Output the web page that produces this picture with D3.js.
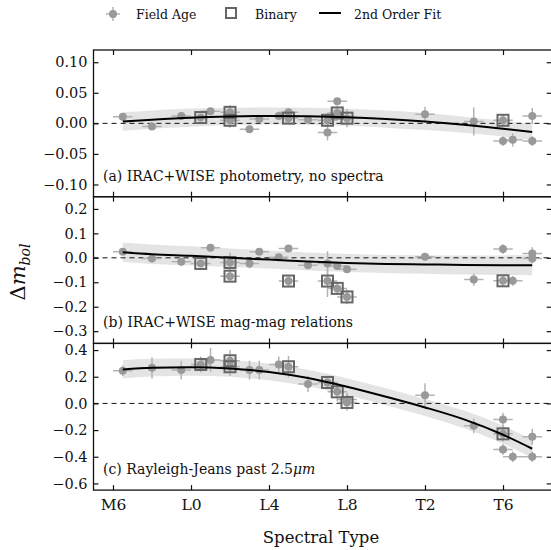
<!DOCTYPE html>
<html>
<head>
<meta charset="utf-8">
<script src="https://cdn.jsdelivr.net/npm/d3@7"></script>
<style>
  html, body { margin: 0; padding: 0; background: #fff; }
  svg { display: block; }
  text { font-family: "DejaVu Serif", "Liberation Serif", serif; fill: #111; }
</style>
</head>
<body>
<div id="chart"></div>
<script>
// ---------------- DATA ----------------
const tickSpT = [6, 10, 14, 18, 22, 26];
const tickLabels = ["M6", "L0", "L4", "L8", "T2", "T6"];
const xErrSubtype = 0.5;

// Panel (a) IRAC+WISE photometry, no spectra
const aSpT = [6.5, 8, 9.5, 10.5, 11, 12, 12, 13, 13.5, 14.5, 15, 15, 16, 17, 17, 17.5, 17.5, 18, 22, 24.5, 26, 26, 26.5, 27.5, 27.5];
const aVal = [0.011, -0.005, 0.012, 0.0095, 0.020, 0.018, 0.005, -0.0095, 0.007, 0.012, 0.018, 0.0085, 0.0057, 0.005, -0.015, 0.036, 0.017, 0.0085, 0.015, 0.003, 0.005, -0.029, -0.027, 0.012, -0.029];
const aErr = [0.005, 0.004, 0.005, 0.006, 0.005, 0.012, 0.012, 0.006, 0.006, 0.005, 0.006, 0.008, 0.005, 0.012, 0.013, 0.005, 0.012, 0.015, 0.012, 0.023, 0.010, 0.008, 0.011, 0.013, 0.008];
const aBin = [0, 0, 0, 1, 0, 1, 1, 0, 0, 0, 0, 1, 0, 1, 0, 0, 1, 1, 0, 0, 1, 0, 0, 0, 0];

// Panel (b) IRAC+WISE mag-mag relations
const bSpT = [6.5, 8, 9.5, 10.5, 11, 12, 12, 13, 13.5, 14.5, 15, 15, 16, 17, 17, 17.5, 17.5, 18, 18, 22, 24.5, 26, 26, 26.5, 27.5, 27.5];
const bVal = [0.025, -0.003, -0.016, -0.023, 0.041, -0.019, -0.075, -0.023, 0.025, 0.002, 0.038, -0.095, -0.030, -0.023, -0.095, -0.033, -0.125, -0.047, -0.160, 0.004, -0.089, 0.036, -0.094, -0.094, 0.018, -0.003];
const bErr = [0.012, 0.010, 0.012, 0.012, 0.012, 0.040, 0.020, 0.020, 0.012, 0.015, 0.010, 0.020, 0.015, 0.050, 0.065, 0.015, 0.020, 0.012, 0.030, 0.015, 0.025, 0.020, 0.020, 0.020, 0.025, 0.020];
const bBin = [0, 0, 0, 1, 0, 1, 1, 0, 0, 0, 0, 1, 0, 0, 1, 0, 1, 0, 1, 0, 0, 0, 1, 0, 0, 0];

// Panel (c) Rayleigh-Jeans past 2.5um
const cSpT = [6.5, 8, 9.5, 10.5, 11, 12, 12, 13, 13.5, 14.5, 15, 16, 17, 17.5, 18, 18, 22, 24.5, 26, 26, 26, 26.5, 27.5, 27.5];
const cVal = [0.245, 0.267, 0.25, 0.292, 0.325, 0.32, 0.275, 0.25, 0.25, 0.292, 0.275, 0.145, 0.157, 0.087, 0.03, 0.007, 0.062, -0.168, -0.12, -0.228, -0.345, -0.40, -0.25, -0.40];
const cErr = [0.04, 0.08, 0.07, 0.06, 0.09, 0.08, 0.07, 0.07, 0.07, 0.06, 0.08, 0.06, 0.05, 0.07, 0.05, 0.06, 0.09, 0.055, 0.05, 0.06, 0.04, 0.04, 0.06, 0.04];
const cBin = [0, 0, 0, 1, 0, 1, 1, 0, 0, 0, 1, 0, 1, 1, 0, 1, 0, 0, 0, 1, 0, 0, 0, 0];

// 2nd order fits and their shaded uncertainty half-widths
const fitSpT = [6.5, 8, 10, 12, 14, 16, 18, 20, 22, 24, 26, 27.5];
const fitA  = [0.003, 0.006, 0.0093, 0.0112, 0.012, 0.0115, 0.0099, 0.007, 0.003, -0.0023, -0.0087, -0.0143];
const bandA = [0.015, 0.015, 0.015, 0.014, 0.014, 0.014, 0.014, 0.014, 0.014, 0.013, 0.013, 0.013];
const fitB  = [0.023, 0.015, 0.008, 0.000, -0.007, -0.015, -0.021, -0.025, -0.027, -0.029, -0.030, -0.030];
const bandB = [0.040, 0.040, 0.039, 0.038, 0.037, 0.037, 0.037, 0.037, 0.038, 0.039, 0.040, 0.041];
const fitC  = [0.255, 0.268, 0.272, 0.262, 0.235, 0.19, 0.125, 0.05, -0.03, -0.12, -0.235, -0.34];
const bandC = [0.068, 0.066, 0.064, 0.063, 0.062, 0.062, 0.062, 0.063, 0.064, 0.066, 0.068, 0.070];

const panelTicks = [
  [-0.10, -0.05, 0.00, 0.05, 0.10],
  [-0.3, -0.2, -0.1, 0.0, 0.1, 0.2],
  [-0.6, -0.4, -0.2, 0.0, 0.2, 0.4]
];
const panelDomains = [[-0.12, 0.12], [-0.35, 0.25], [-0.65, 0.45]];
const panelLabels = ["(a) IRAC+WISE photometry, no spectra", "(b) IRAC+WISE mag-mag relations", "(c) Rayleigh-Jeans past "];
const legendLabels = ["Field Age", "Binary", "2nd Order Fit"];

// ---------------- DRAWING ----------------
const W = 551, H = 550;
const svg = d3.select("#chart").append("svg").attr("width", W).attr("height", H);

const x = d3.scaleLinear().domain([5, 28.5]).range([93.5, 551.75]);
const panelTop = 50, panelH = 146.7;

const ptColor = "#999999", errColor = "#b3b3b3", binColor = "#666666", bandColor = "#e4e4e4";

const panels = [
  {spt: aSpT, val: aVal, err: aErr, bin: aBin, fit: fitA, band: bandA, fmt: d3.format(".2f")},
  {spt: bSpT, val: bVal, err: bErr, bin: bBin, fit: fitB, band: bandB, fmt: d3.format(".1f")},
  {spt: cSpT, val: cVal, err: cErr, bin: cBin, fit: fitC, band: bandC, fmt: d3.format(".1f")}
];

const minus = s => s.replace("-", "\u2212");

panels.forEach((p, i) => {
  const top = panelTop + i * panelH;
  const y = d3.scaleLinear().domain(panelDomains[i]).range([top + panelH, top]);
  const g = svg.append("g");
  const clipId = "clip" + i;
  svg.append("clipPath").attr("id", clipId).append("rect")
    .attr("x", x.range()[0]).attr("y", top).attr("width", x.range()[1] - x.range()[0]).attr("height", panelH);
  const pg = g.append("g").attr("clip-path", `url(#${clipId})`);

  // band
  const fitPts = fitSpT.map((s, k) => ({s, v: p.fit[k], w: p.band[k]}));
  pg.append("path").datum(fitPts)
    .attr("d", d3.area().x(d => x(d.s)).y0(d => y(d.v - d.w)).y1(d => y(d.v + d.w)).curve(d3.curveMonotoneX))
    .attr("fill", bandColor);

  // zero line
  pg.append("line").attr("x1", x.range()[0]).attr("x2", x.range()[1])
    .attr("y1", y(0)).attr("y2", y(0))
    .attr("stroke", "#111").attr("stroke-width", 1).attr("stroke-dasharray", "5,4");

  const pts = p.spt.map((s, k) => ({s, v: p.val[k], e: p.err[k], b: p.bin[k]}));

  // error bars
  const eb = pg.append("g").attr("stroke", errColor).attr("stroke-width", 1.5);
  eb.selectAll("line.h").data(pts).join("line").attr("class", "h")
    .attr("x1", d => x(d.s - xErrSubtype)).attr("x2", d => x(d.s + xErrSubtype))
    .attr("y1", d => y(d.v)).attr("y2", d => y(d.v));
  eb.selectAll("line.v").data(pts).join("line").attr("class", "v")
    .attr("x1", d => x(d.s)).attr("x2", d => x(d.s))
    .attr("y1", d => y(d.v - d.e)).attr("y2", d => y(d.v + d.e));

  // points
  pg.selectAll("circle.pt").data(pts).join("circle").attr("class", "pt")
    .attr("cx", d => x(d.s)).attr("cy", d => y(d.v)).attr("r", 4)
    .attr("fill", ptColor);

  // binaries
  pg.selectAll("rect.bin").data(pts.filter(d => d.b)).join("rect").attr("class", "bin")
    .attr("x", d => x(d.s) - 5.5).attr("y", d => y(d.v) - 5.5)
    .attr("width", 11).attr("height", 11)
    .attr("fill", "none").attr("stroke", binColor).attr("stroke-width", 2);

  // fit line
  pg.append("path").datum(fitPts)
    .attr("d", d3.line().x(d => x(d.s)).y(d => y(d.v)).curve(d3.curveMonotoneX))
    .attr("fill", "none").attr("stroke", "#000").attr("stroke-width", 2);

  // axes
  const yl = g.append("g").attr("transform", `translate(${x.range()[0]},0)`)
    .call(d3.axisLeft(y).tickValues(panelTicks[i]).tickFormat(d => minus(p.fmt(d)))
      .tickSizeInner(-5).tickSizeOuter(0).tickPadding(6));
  const yr = g.append("g").attr("transform", `translate(${x.range()[1]},0)`)
    .call(d3.axisRight(y).tickValues(panelTicks[i]).tickFormat("")
      .tickSizeInner(-5).tickSizeOuter(0));
  const xt = g.append("g").attr("transform", `translate(0,${top})`)
    .call(d3.axisTop(x).tickValues(tickSpT).tickFormat("").tickSizeInner(-5).tickSizeOuter(0));
  const xb = g.append("g").attr("transform", `translate(0,${top + panelH})`)
    .call(d3.axisBottom(x).tickValues(tickSpT)
      .tickFormat(i === 2 ? ((d, k) => tickLabels[k]) : "")
      .tickSizeInner(-5).tickSizeOuter(0).tickPadding(9));
  [yl, yr, xt, xb].forEach(a => {
    a.select(".domain").remove();
    a.selectAll(".tick line").attr("stroke", "#111").attr("stroke-width", 1.2);
    a.selectAll("text").attr("font-size", 14.5).attr("fill", "#111")
      .style("font-family", '"DejaVu Serif", serif');
  });
  xb.selectAll("text").attr("font-size", 15.5);

  // frame
  g.append("rect").attr("x", x.range()[0]).attr("y", top)
    .attr("width", x.range()[1] - x.range()[0]).attr("height", panelH)
    .attr("fill", "none").attr("stroke", "#111").attr("stroke-width", 1.3);

  // panel label
  const lt = g.append("text").attr("x", 103).attr("y", top + panelH - 16)
    .attr("font-size", 14).text(panelLabels[i]);
  if (i === 2) {
    lt.append("tspan").text("2.5");
    lt.append("tspan").attr("font-style", "italic").text("\u03bcm");
  }
});

// y label
const ylab = svg.append("text").attr("transform", "translate(25,272) rotate(-90)")
  .attr("text-anchor", "middle").attr("font-size", 21);
ylab.append("tspan").text("\u0394");
ylab.append("tspan").attr("font-style", "italic").text("m");
ylab.append("tspan").attr("font-style", "italic").attr("font-size", 14).attr("dy", 5).text("bol");

// x label
svg.append("text").attr("x", 321).attr("y", 543).attr("text-anchor", "middle")
  .attr("font-size", 16.5).text("Spectral Type");

// legend
const lg = svg.append("g");
const ly = 14;
lg.append("line").attr("x1", 106).attr("x2", 120).attr("y1", ly).attr("y2", ly).attr("stroke", errColor).attr("stroke-width", 1.5);
lg.append("line").attr("x1", 113).attr("x2", 113).attr("y1", ly - 7).attr("y2", ly + 7).attr("stroke", errColor).attr("stroke-width", 1.5);
lg.append("circle").attr("cx", 113).attr("cy", ly).attr("r", 4).attr("fill", ptColor);
lg.append("rect").attr("x", 226).attr("y", ly - 6).attr("width", 10).attr("height", 10)
  .attr("fill", "none").attr("stroke", binColor).attr("stroke-width", 2);
lg.append("line").attr("x1", 319).attr("x2", 341).attr("y1", ly - 1).attr("y2", ly - 1)
  .attr("stroke", "#000").attr("stroke-width", 2);
[136, 255, 354].forEach((lx, k) => {
  lg.append("text").attr("x", lx).attr("y", ly + 5).attr("font-size", 12.5).text(legendLabels[k]);
});
</script>
</body>
</html>
